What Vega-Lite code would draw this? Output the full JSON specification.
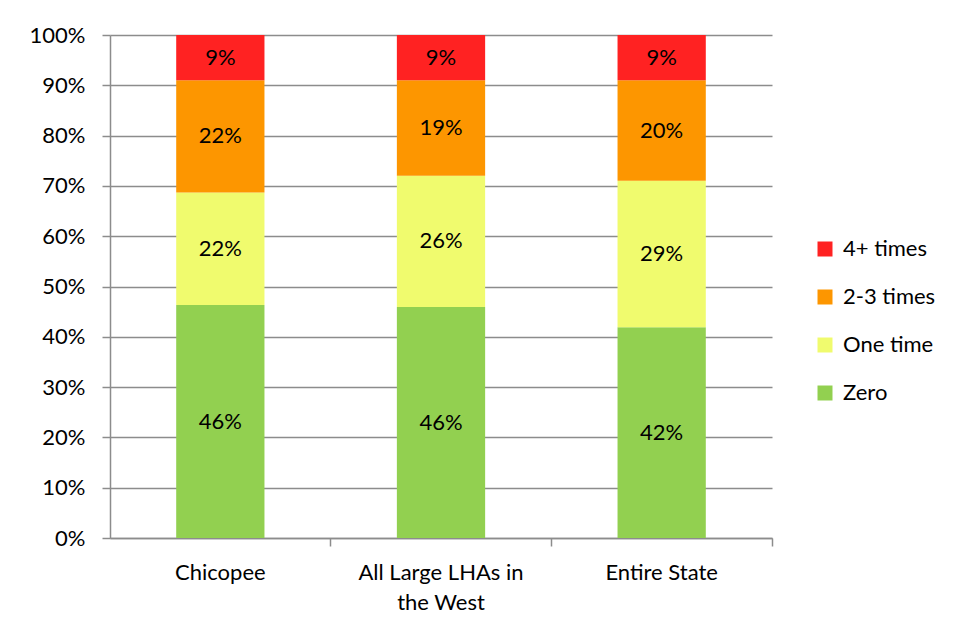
{
  "$schema": "https://vega.github.io/schema/vega-lite/v6.json",
  "autosize": {"type": "none"},
  "padding": {"left": 110, "top": 35, "right": 186, "bottom": 96},
  "width": 662,
  "height": 503,
  "background": "white",
  "config": {
    "font": "Lato",
    "view": {"stroke": null},
    "axis": {"labelFont": "Lato", "labelFontSize": 22, "labelColor": "#000000", "titleFont": "Lato"},
    "legend": {"labelFont": "Lato", "labelFontSize": 22, "labelColor": "#000000"}
  },
  "data": {
    "values": [
      {"region": "Chicopee", "category": "Zero", "ord": 1, "value": 0.463},
      {"region": "Chicopee", "category": "One time", "ord": 2, "value": 0.224},
      {"region": "Chicopee", "category": "2-3 times", "ord": 3, "value": 0.223},
      {"region": "Chicopee", "category": "4+ times", "ord": 4, "value": 0.09},
      {"region": "All Large LHAs in the West", "category": "Zero", "ord": 1, "value": 0.459},
      {"region": "All Large LHAs in the West", "category": "One time", "ord": 2, "value": 0.261},
      {"region": "All Large LHAs in the West", "category": "2-3 times", "ord": 3, "value": 0.19},
      {"region": "All Large LHAs in the West", "category": "4+ times", "ord": 4, "value": 0.09},
      {"region": "Entire State", "category": "Zero", "ord": 1, "value": 0.419},
      {"region": "Entire State", "category": "One time", "ord": 2, "value": 0.291},
      {"region": "Entire State", "category": "2-3 times", "ord": 3, "value": 0.2},
      {"region": "Entire State", "category": "4+ times", "ord": 4, "value": 0.09}
    ]
  },
  "transform": [
    {"stack": "value", "groupby": ["region"], "sort": [{"field": "ord", "order": "ascending"}], "as": ["y0", "y1"]},
    {"calculate": "(datum.y0 + datum.y1) / 2", "as": "ymid"}
  ],
  "encoding": {
    "x": {
      "field": "region",
      "type": "nominal",
      "sort": ["Chicopee", "All Large LHAs in the West", "Entire State"],
      "scale": {"paddingInner": 0.6, "paddingOuter": 0.3},
      "axis": {
        "title": null,
        "labelAngle": 0,
        "bandPosition": 1.75,
        "tickSize": 8,
        "tickColor": "#8c8c8c",
        "tickWidth": 1.5,
        "domainColor": "#8c8c8c",
        "domainWidth": 1.5,
        "labelPadding": 16,
        "labelLineHeight": 30,
        "labelExpr": "datum.value == 'All Large LHAs in the West' ? ['All Large LHAs in', 'the West'] : datum.value"
      }
    }
  },
  "layer": [
    {
      "mark": {"type": "bar"},
      "encoding": {
        "y": {
          "field": "y0",
          "type": "quantitative",
          "scale": {"domain": [0, 1]},
          "axis": {
            "title": null,
            "format": ".0%",
            "values": [0, 0.1, 0.2, 0.3, 0.4, 0.5, 0.6, 0.7, 0.8, 0.9, 1],
            "grid": true,
            "gridColor": "#8c8c8c",
            "gridWidth": 1.5,
            "tickSize": 8,
            "tickColor": "#8c8c8c",
            "tickWidth": 1.5,
            "domainColor": "#8c8c8c",
            "domainWidth": 1.5,
            "labelPadding": 17
          }
        },
        "y2": {"field": "y1"},
        "color": {
          "field": "category",
          "type": "nominal",
          "scale": {
            "domain": ["4+ times", "2-3 times", "One time", "Zero"],
            "range": ["#ff2222", "#fd9600", "#f0fb6e", "#92d050"]
          },
          "legend": {
            "title": null,
            "orient": "none",
            "legendX": 704,
            "legendY": 203,
            "symbolType": "square",
            "symbolSize": 225,
            "symbolStrokeWidth": 0,
            "rowPadding": 26,
            "labelOffset": 7,
            "padding": 0
          }
        }
      }
    },
    {
      "mark": {"type": "text", "fontSize": 22, "color": "#000000", "baseline": "middle", "align": "center"},
      "encoding": {
        "y": {"field": "ymid", "type": "quantitative"},
        "text": {"field": "value", "type": "quantitative", "format": ".0%"}
      }
    }
  ]
}
